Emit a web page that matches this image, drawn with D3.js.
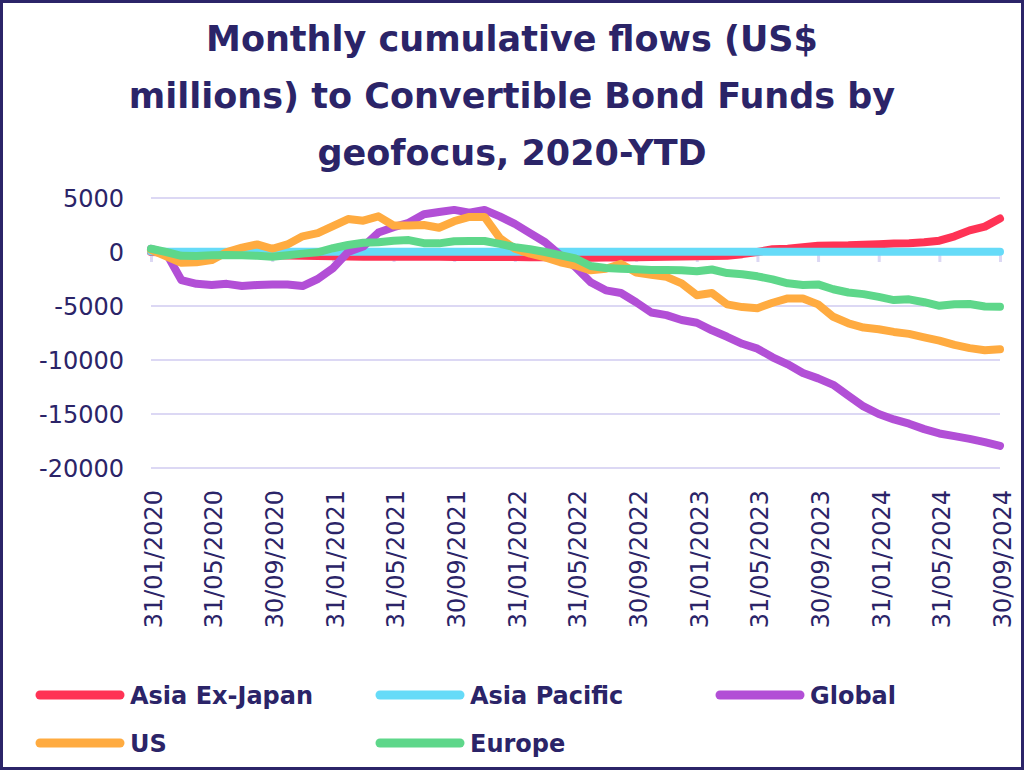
<!DOCTYPE html>
<html>
<head>
<meta charset="utf-8">
<script src="https://cdn.jsdelivr.net/npm/d3@7"></script>
<style>
  html, body { margin: 0; padding: 0; background: #ffffff; }
  svg { display: block; }
</style>
</head>
<body>
<svg id="chart" width="1024" height="770"></svg>
<script>
// ---- DATA ----
const titleLines = ["Monthly cumulative flows (US$", "millions) to Convertible Bond Funds by", "geofocus, 2020-YTD"];

// month-end categories, 31/01/2020 .. 30/09/2024
const categories = d3.utcMonths(new Date(Date.UTC(2020, 1, 1)), new Date(Date.UTC(2024, 10, 1)))
  .map(d => d3.utcFormat("%d/%m/%Y")(d3.utcDay.offset(d, -1)));

const yTicks = [5000, 0, -5000, -10000, -15000, -20000];
const seriesNames = ["Asia Ex-Japan", "Asia Pacific", "Global", "US", "Europe"];
const seriesColors = ["#ff3355", "#66dbf8", "#b24fd6", "#ffab40", "#5ed78a"];

const asiaExJapan = [0, -50, -100, -150, -200, -220, -250, -280, -300, -320, -350, -380, -400, -420, -430, -430,
  -440, -440, -450, -450, -460, -460, -460, -470, -470, -480, -480, -500, -520, -540, -520, -500,
  -480, -460, -440, -420, -400, -380, -350, -200, 0, 250, 300, 450, 580, 600, 620, 680,
  720, 780, 820, 900, 1050, 1450, 2000, 2350, 3100];
const asiaPacific = [50, 30, 20, 20, 20, 20, 20, 20, 20, 20, 20, 20, 20, 20, 20, 20,
  20, 20, 20, 20, 20, 20, 20, 20, 20, 20, 20, 20, 20, 20, 20, 20,
  20, 20, 20, 20, 20, 20, 20, 20, 20, 20, 20, 20, 20, 20, 20, 20,
  20, 20, 20, 20, 20, 20, 20, 20, 20];
const global = [300, -100, -2600, -2950, -3050, -2950, -3150, -3050, -3000, -3000, -3150, -2500, -1500, 0, 500, 1800,
  2300, 2700, 3500, 3700, 3900, 3650, 3900, 3300, 2600, 1750, 900, -300, -1400, -2800, -3550, -3800,
  -4650, -5600, -5850, -6300, -6550, -7250, -7850, -8500, -8950, -9750, -10400, -11200, -11700, -12300, -13300, -14300,
  -15000, -15500, -15900, -16400, -16800, -17050, -17300, -17600, -17950];
const us = [200, -400, -1000, -950, -750, 0, 400, 700, 300, 700, 1450, 1750, 2400, 3050, 2900, 3300,
  2450, 2450, 2500, 2250, 2850, 3250, 3250, 1300, 300, -150, -500, -950, -1250, -1700, -1550, -1100,
  -1900, -2100, -2300, -2900, -4000, -3800, -4850, -5100, -5200, -4700, -4300, -4300, -4850, -6000, -6600, -7000,
  -7150, -7400, -7580, -7900, -8200, -8600, -8900, -9100, -9000];
const europe = [300, 0, -350, -370, -300, -280, -300, -350, -430, -300, -150, -30, 350, 650, 850, 900,
  1050, 1100, 820, 800, 1000, 1020, 1020, 750, 450, 250, 0, -300, -600, -1300, -1480, -1550,
  -1600, -1670, -1670, -1680, -1780, -1620, -1950, -2060, -2250, -2530, -2900, -3050, -3000, -3450, -3750, -3900,
  -4150, -4450, -4380, -4650, -4980, -4830, -4810, -5050, -5060];

const seriesValues = [asiaExJapan, asiaPacific, global, us, europe];

// ---- CHART ----
const svg = d3.select("#chart");
const W = 1024, H = 770;
const ink = "#2b2468";
const grid = "#dcd8f4";
const font = "'DejaVu Sans', sans-serif";

svg.append("rect").attr("x", 1.5).attr("y", 1.5).attr("width", W - 3).attr("height", H - 3)
  .attr("fill", "#fff").attr("stroke", ink).attr("stroke-width", 3);

// title
svg.append("g").selectAll("text").data(titleLines).join("text")
  .attr("x", 512).attr("y", (d, i) => 51 + i * 57)
  .attr("text-anchor", "middle")
  .attr("font-family", font).attr("font-weight", 700).attr("font-size", 35)
  .attr("fill", ink).text(d => d);

const x = d3.scalePoint().domain(categories).range([151, 1000]);
const y = d3.scaleLinear().domain([-20000, 5000]).range([468, 198]);

// grid
svg.append("g").selectAll("line").data(yTicks).join("line")
  .attr("x1", 151).attr("x2", 1000)
  .attr("y1", d => y(d)).attr("y2", d => y(d))
  .attr("stroke", grid).attr("stroke-width", 2);

// y labels
const yAxis = d3.axisLeft(y).tickValues(yTicks).tickSize(0).tickPadding(0).tickFormat(d3.format("d"));
const yg = svg.append("g").attr("transform", "translate(124,0)").call(yAxis);
yg.select(".domain").remove();
yg.selectAll("text").attr("font-family", font).attr("font-size", 24).attr("fill", ink)
  .attr("dy", "0.36em")
  .text(d => d < 0 ? "-" + Math.abs(d) : d);

// x axis ticks (at zero line) every 4 months
const tickCats = categories.filter((c, i) => i % 4 === 0);
const xAxis = d3.axisBottom(x).tickValues(tickCats).tickSize(10).tickFormat("");
const xg = svg.append("g").attr("transform", `translate(0,${y(0)})`).call(xAxis);
xg.select(".domain").attr("stroke", grid).attr("stroke-width", 2);
xg.selectAll(".tick line").attr("stroke", grid).attr("stroke-width", 3);

// x labels at bottom
svg.append("g").selectAll("text").data(tickCats).join("text")
  .attr("transform", d => `translate(${x(d)},490) rotate(-90)`)
  .attr("text-anchor", "end").attr("dy", "0.45em")
  .attr("font-family", font).attr("font-size", 24)
  .attr("fill", ink).text(d => d);

// lines
const line = d3.line().x((d, i) => x(categories[i])).y(d => y(d));
svg.append("g").selectAll("path").data(seriesValues).join("path")
  .attr("d", d => line(d))
  .attr("fill", "none")
  .attr("stroke", (d, i) => seriesColors[i])
  .attr("stroke-width", 8)
  .attr("stroke-linejoin", "round").attr("stroke-linecap", "round");

// legend
const legendPos = [[36, 695], [376, 695], [716, 695], [36, 743], [376, 743]];
const lg = svg.append("g").selectAll("g").data(seriesNames).join("g")
  .attr("transform", (d, i) => `translate(${legendPos[i][0]},${legendPos[i][1]})`);
lg.append("line").attr("x1", 4).attr("x2", 84).attr("y1", 0).attr("y2", 0)
  .attr("stroke", (d, i) => seriesColors[i]).attr("stroke-width", 9).attr("stroke-linecap", "round");
lg.append("text").attr("x", 94).attr("y", 0).attr("dy", "0.36em")
  .attr("font-family", font).attr("font-weight", 700).attr("font-size", 24)
  .attr("fill", ink).text(d => d);
</script>
</body>
</html>
